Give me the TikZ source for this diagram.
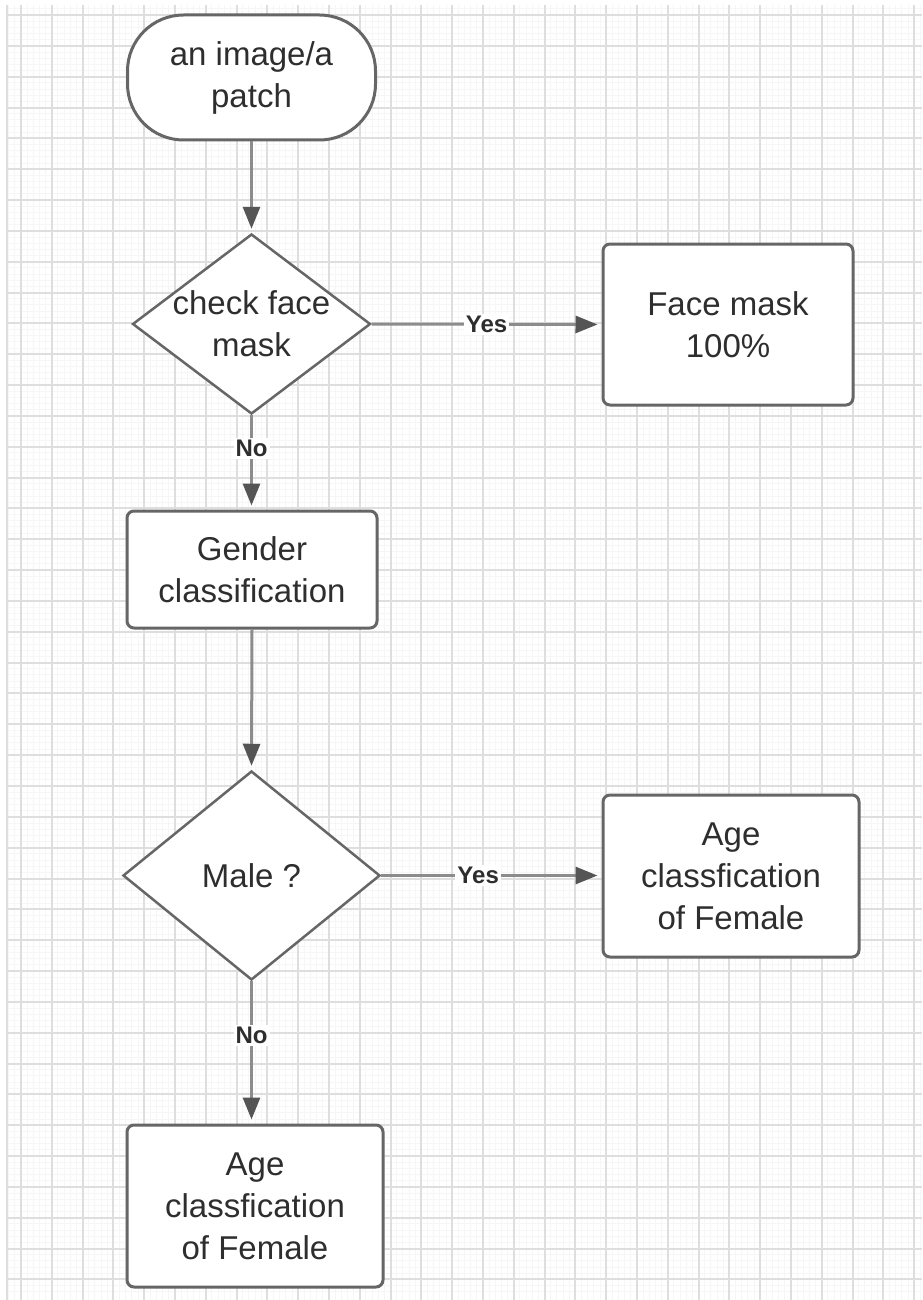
\documentclass[tikz,border=0pt]{standalone}
\usepackage{fontspec}
\setmainfont{Liberation Sans}
\usetikzlibrary{arrows.meta,shapes.geometric}

\definecolor{gridmajor}{HTML}{DEDEDE}
\definecolor{gridminor}{HTML}{F6F6F6}
\definecolor{outline}{HTML}{666666}
\definecolor{wire}{HTML}{8C8C8C}
\definecolor{tiphead}{HTML}{555555}
\definecolor{ink}{HTML}{2E2E2E}

\tikzset{
  shapeline/.style={draw=outline, line width=3pt, fill=white},
  terminal/.style={shapeline, rectangle, rounded corners=56pt, inner sep=0pt},
  procbox/.style={shapeline, rectangle, rounded corners=7pt, inner sep=0pt},
  decision/.style={draw=outline, line width=2.5pt, fill=white, diamond, inner sep=0pt},
  txt/.style={align=center, text=ink, inner sep=0pt, font=\fontsize{33}{42}\selectfont},
  conn/.style={draw=wire, line width=3pt,
    -{Triangle[length=22pt,width=17pt,color=tiphead]}, shorten >=4pt},
  lbl/.style={fill=white, text=ink, inner sep=2pt, font=\fontsize{24}{26}\selectfont\bfseries},
}

\begin{document}
\begin{tikzpicture}[x=1pt, y=-1pt]
  \useasboundingbox (0,0) rectangle (922,1300);
  \fill[white] (0,0) rectangle (922,1300);

  % background grid: faint minor lines, then major lines
  \foreach \i in {-2,...,147}
    \draw[gridminor, line width=1pt] ({21+6.16*\i},5) -- ({21+6.16*\i},1300);
  \foreach \i in {-1,...,207}
    \draw[gridminor, line width=1pt] (7,{15+6.168*\i}) -- (922,{15+6.168*\i});
  \draw[gridmajor, line width=2pt] (7,5) -- (7,1300);
  \foreach \i in {0,...,29}
    \draw[gridmajor, line width=2pt] ({21+30.8*\i},5) -- ({21+30.8*\i},1300);
  \foreach \i in {0,...,41}
    \draw[gridmajor, line width=2pt] (7,{15+30.84*\i}) -- (922,{15+30.84*\i});

  % start terminal
  \node[terminal, minimum width=248pt, minimum height=125pt] (start) at (251.5,77.5) {};
  \node[txt] (starttxt) at (start) {an image/a\\patch};

  % first decision
  \node[decision, minimum width=238pt, minimum height=180pt] (mask) at (251.5,324) {};
  \node[txt] (masktxt) at (mask) {check face\\mask};

  % face mask result
  \node[procbox, minimum width=250pt, minimum height=161pt] (full) at (728,324.5) {};
  \node[txt] (fulltxt) at (full) {Face mask\\100\%};

  % gender classification
  \node[procbox, minimum width=250pt, minimum height=117pt] (gender) at (252,569.5) {};
  \node[txt] (gendertxt) at (gender) {Gender\\classification};

  % second decision
  \node[decision, minimum width=257pt, minimum height=209pt] (male) at (251.5,875.5) {};
  \node[txt] (maletxt) at (male) {Male ?};

  % age classification boxes
  \node[procbox, minimum width=256pt, minimum height=162pt] (ageright) at (731,876) {};
  \node[txt] (agerighttxt) at (ageright) {Age\\classfication\\of Female};

  \node[procbox, minimum width=256pt, minimum height=162pt] (agedown) at (255,1206) {};
  \node[txt] (agedowntxt) at (agedown) {Age\\classfication\\of Female};

  % connectors
  \draw[conn] (start.south) -- (mask.north);
  \draw[conn] (mask.east) -- node[lbl, pos=0.5] (yes1) {Yes} (full.west);
  \draw[conn] (mask.south) -- node[lbl, pos=0.35] (no1) {No} (mask.south |- gender.north);
  \draw[conn] (gender.south) -- (male.north);
  \draw[conn] (male.east) -- node[lbl, pos=0.44] (yes2) {Yes} (male.east -| ageright.west);
  \draw[conn] (male.south) -- node[lbl, pos=0.38] (no2) {No} (male.south |- agedown.north);
\end{tikzpicture}
\end{document}
